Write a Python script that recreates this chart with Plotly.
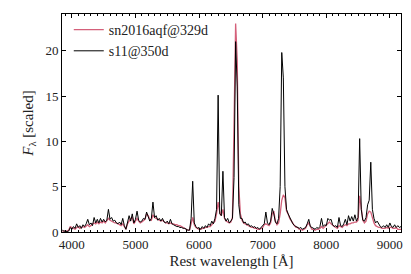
import plotly.graph_objects as go

# wavelength grid (Angstrom), 25 A steps
wavelength = list(range(3850, 9176, 25))

# s11@350d (black)
flux_s11 = [
    0.2, 0.1, 0.1, 0.05, 0.1, 0.5, 0.3, 0.6, 0.4, 0.9,   # 3850-4075
    0.5, 0.7, 0.4, 0.8, 0.6, 0.9, 1.4, 0.8, 1.0, 0.7,    # 4100-4325
    1.6, 1.0, 1.4, 1.0, 1.5, 1.1, 1.4, 1.1, 1.3, 2.5,    # 4350-4575
    1.4, 1.6, 1.2, 1.3, 1.0, 0.9, 1.1, 0.8, 1.5, 0.7,    # 4600-4825
    0.3, 1.2, 1.8, 1.2, 2.0, 1.0, 1.4, 2.3, 1.3, 1.1,    # 4850-5075
    1.2, 1.5, 1.4, 2.2, 1.6, 1.2, 1.5, 3.3, 1.6, 1.8,    # 5100-5325
    1.3, 1.5, 1.2, 1.5, 1.1, 1.0, 1.2, 0.9, 1.4, 0.9,    # 5350-5575
    0.8, 0.7, 0.6, 0.6, 0.5, 0.5, 0.4, 0.4, 0.3, 0.2,    # 5600-5825
    0.2, 1.5, 5.6, 1.0, 0.6, 0.4, 0.5, 0.3, 0.6, 0.4,    # 5850-6075
    0.7, 0.5, 0.9, 0.7, 1.2, 0.9, 1.5, 2.5, 15.1, 2.0,   # 6100-6325
    1.8, 6.7, 1.6, 1.2, 1.5, 1.0, 1.2, 1.5, 6.0, 21.0,   # 6350-6575
    16.0, 3.0, 1.5, 1.5, 1.0, 1.1, 0.8, 0.9, 0.6, 0.7,   # 6600-6825
    0.5, 0.6, 0.4, 0.5, 0.3, 0.5, 0.6, 0.9, 2.2, 1.0,    # 6850-7075
    0.8, 1.2, 2.6, 2.0, 1.1, 0.9, 1.5, 5.0, 19.8, 17.0,  # 7100-7325
    5.0, 2.5, 2.0, 1.6, 1.2, 0.9, 0.7, 0.6, 0.5, 0.4,    # 7350-7575
    0.5, 0.3, 0.4, 0.5, 0.9, 1.4, 0.6, 0.5, 0.4, 0.3,    # 7600-7825
    0.5, 0.4, 0.6, 1.5, 0.6, 0.8, 0.7, 1.5, 1.3, 1.4,    # 7850-8075
    0.8, 0.6, 0.7, 0.5, 1.6, 0.7, 0.6, 0.9, 1.4, 0.8,    # 8100-8325
    1.8, 1.2, 1.7, 1.2, 1.9, 1.2, 1.6, 10.3, 2.5, 1.3,   # 8350-8575
    1.2, 1.6, 3.0, 3.5, 7.7, 2.5, 1.5, 1.0, 1.2, 0.8,    # 8600-8825
    0.6, 0.5, 0.7, 0.5, 0.8, 0.5, 1.0, 0.6, 0.5, 0.8,    # 8850-9075
    0.5, 0.7, 0.5, 0.6,                                  # 9100-9175
]

# sn2016aqf@329d (red)
flux_aqf = [
    0.1, 0.1, 0.05, 0.1, 0.2, 0.6, 0.5, 0.4, 0.3, 0.5,
    0.6, 0.4, 0.5, 0.6, 0.5, 0.7, 0.8, 0.6, 0.7, 0.9,
    1.0, 0.9, 1.1, 0.9, 1.1, 1.0, 1.2, 1.0, 1.2, 1.5,
    1.3, 1.2, 1.1, 1.0, 1.0, 0.9, 0.8, 0.7, 0.9, 0.6,
    0.3, 0.9, 1.3, 1.5, 1.6, 0.9, 1.2, 1.5, 1.2, 1.0,
    1.1, 1.3, 1.4, 2.0, 1.8, 1.4, 1.3, 1.9, 1.6, 1.5,
    1.4, 1.3, 1.2, 1.3, 1.1, 1.0, 1.0, 0.9, 1.0, 0.9,
    0.9, 0.8, 0.8, 0.7, 0.7, 0.6, 0.5, 0.4, 0.3, 0.2,
    0.2, 0.8, 1.6, 0.8, 0.5, 0.4, 0.3, 0.3, 0.4, 0.4,
    0.5, 0.5, 0.6, 0.6, 0.8, 0.9, 1.2, 2.0, 3.3, 2.2,
    1.8, 2.5, 1.5, 1.2, 1.1, 1.0, 1.1, 1.6, 12.0, 23.0,
    19.0, 5.0, 2.0, 1.3, 1.0, 0.9, 0.8, 0.7, 0.6, 0.5,
    0.5, 0.4, 0.4, 0.3, 0.3, 0.4, 0.5, 0.8, 0.9, 0.8,
    0.7, 1.0, 2.0, 2.3, 1.2, 0.8, 1.0, 2.0, 3.5, 4.1,
    3.8, 2.3, 2.0, 1.5, 1.2, 0.9, 0.7, 0.5, 0.5, 0.3,
    0.3, 0.2, 0.3, 0.4, 0.8, 1.0, 0.6, 0.3, 0.3, 0.2,
    0.3, 0.3, 0.4, 0.6, 0.4, 0.6, 0.7, 1.0, 1.1, 0.9,
    0.7, 0.6, 0.5, 0.4, 0.7, 0.6, 0.5, 0.7, 0.8, 0.7,
    0.9, 0.9, 1.0, 1.0, 1.1, 1.1, 1.3, 4.0, 2.5, 1.3,
    1.0, 1.2, 2.0, 2.3, 2.2, 1.5, 1.0, 0.7, 0.6, 0.5,
    0.5, 0.4, 0.4, 0.4, 0.5, 0.4, 0.5, 0.5, 0.4, 0.4,
    0.5, 0.3, 0.3, 0.3,
]

series_names = ["sn2016aqf@329d", "s11@350d"]
x_ticks = [4000, 5000, 6000, 7000, 8000, 9000]
y_ticks = [0, 5, 10, 15, 20]

FONT = "Liberation Serif"

fig = go.Figure()
fig.add_trace(go.Scatter(x=wavelength, y=flux_aqf, mode="lines", name=series_names[0],
                         line=dict(color="#d4607a", width=1.3)))
fig.add_trace(go.Scatter(x=wavelength, y=flux_s11, mode="lines", name=series_names[1],
                         line=dict(color="black", width=1)))

axis_common = dict(showline=True, linecolor="black", linewidth=1, mirror="allticks",
                   ticks="inside", ticklen=4, tickcolor="black", tickwidth=1,
                   showgrid=False, zeroline=False,
                   tickfont=dict(family=FONT, size=13, color="#222"))

fig.update_xaxes(range=[3845, 9175], tickvals=x_ticks,
                 minor=dict(dtick=100, tick0=0, ticks="inside", ticklen=2, tickcolor="black"),
                 title=dict(text="Rest wavelength [Å]", font=dict(family=FONT, size=15, color="#222"),
                            standoff=4),
                 **axis_common)
fig.update_yaxes(range=[0, 24.05], tickvals=y_ticks,
                 title=dict(text="<i>F</i><sub>λ</sub> [scaled]", font=dict(family=FONT, size=15, color="#222"),
                            standoff=8),
                 **axis_common)

fig.update_layout(
    width=411, height=274,
    margin=dict(l=62, r=8, t=14, b=42),
    paper_bgcolor="white", plot_bgcolor="white",
    showlegend=True,
    legend=dict(x=0.02, y=1.0, xanchor="left", yanchor="top", bgcolor="rgba(0,0,0,0)",
                font=dict(family=FONT, size=14, color="#222"), tracegroupgap=0,
                itemwidth=30),
)

fig.write_html("out.html", config={"displayModeBar": False},
               post_script="document.body.style.margin='0';document.body.style.padding='0';")
